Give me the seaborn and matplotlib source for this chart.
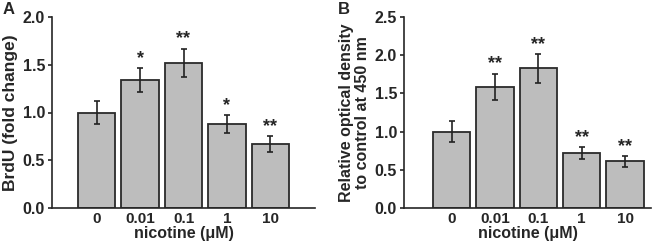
import pandas as pd
import matplotlib
matplotlib.use("Agg")
import matplotlib.pyplot as plt
import seaborn as sns

# dados
doses = ["0", "0.01", "0.1", "1", "10"]
brdu = [1.00, 1.34, 1.52, 0.88, 0.67]
brdu_err = [0.12, 0.13, 0.15, 0.09, 0.08]
brdu_sig = ["", "*", "**", "*", "**"]
od = [1.00, 1.59, 1.83, 0.72, 0.61]
od_err = [0.14, 0.17, 0.19, 0.08, 0.07]
od_sig = ["", "**", "**", "**", "**"]

sns.set_style("ticks")
plt.rcParams["font.family"] = ["Liberation Sans", "DejaVu Sans"]
plt.rcParams["font.weight"] = "bold"
plt.rcParams["axes.labelweight"] = "bold"

fig = plt.figure(figsize=(6.72, 2.48), dpi=100)
ax_a = fig.add_axes([52 / 672, 40 / 248, 263 / 672, 191 / 248])
ax_b = fig.add_axes([404 / 672, 40 / 248, 247 / 672, 191 / 248])


def painel(ax, valores, erros, sig, ymax, ylabel, ylsize, letra, xlim, letra_x):
    df = pd.DataFrame({"dose": doses, "valor": valores})
    sns.barplot(data=df, x="dose", y="valor", ax=ax, color="#bdbdbd",
                edgecolor="#2a2a2a", linewidth=1.3, width=0.86, saturation=1,
                errorbar=None)
    ax.errorbar(range(len(doses)), valores, yerr=erros, fmt="none",
                ecolor="#222222", elinewidth=1.2, capsize=2.5, capthick=1.2)
    for i, s in enumerate(sig):
        if s:
            ax.text(i, valores[i] + erros[i] + ymax * 0.005, s, ha="center",
                    va="bottom", fontsize=13, fontweight="bold")
    ax.set_ylim(0, ymax)
    ax.set_xlim(*xlim)
    ax.set_yticks([k * 0.5 for k in range(int(ymax / 0.5) + 1)])
    ax.set_yticklabels([f"{k * 0.5:.1f}" for k in range(int(ymax / 0.5) + 1)])
    ax.set_xlabel("nicotine (μM)", fontsize=11.5, labelpad=0)
    ax.set_ylabel(ylabel, fontsize=ylsize, labelpad=3, linespacing=1.1)
    ax.tick_params(axis="y", length=3, width=1.2, labelsize=11.5, pad=2)
    ax.tick_params(axis="x", length=0, labelsize=11, pad=3)
    for lab in ax.get_xticklabels() + ax.get_yticklabels():
        lab.set_fontweight("bold")
    sns.despine(ax=ax)
    for sp in ["left", "bottom"]:
        ax.spines[sp].set_linewidth(1.2)
    fig.text(letra_x, 1 - 9 / 248, letra, fontsize=12, fontweight="bold",
             va="center", ha="left")


painel(ax_a, brdu, brdu_err, brdu_sig, 2.0, "BrdU (fold change)", 12.5, "A",
       (-1.03, 5.03), 3 / 672)
painel(ax_b, od, od_err, od_sig, 2.5,
       "Relative optical density\nto control at 450 nm", 11.5, "B",
       (-1.1, 4.6), 338 / 672)

fig.savefig("out.png", dpi=100)
